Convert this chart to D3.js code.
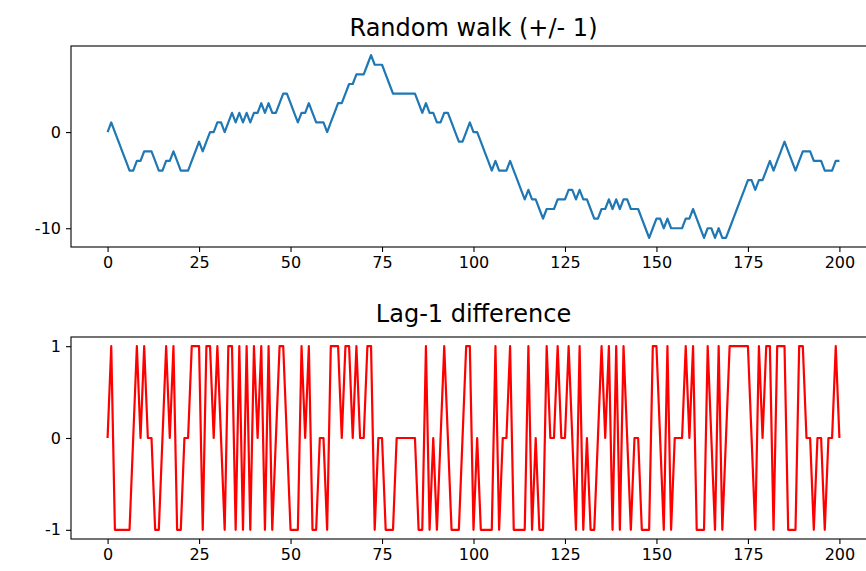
<!DOCTYPE html>
<html>
<head>
<meta charset="utf-8">
<script src="https://cdn.jsdelivr.net/npm/d3@7"></script>
<style>
  body { margin: 0; background: #fff; }
  svg { display: block; }
  text { font-family: "DejaVu Sans", sans-serif; fill: #000; }
</style>
</head>
<body>
<svg id="chart" width="866" height="571"></svg>
<script>
// Random walk level at each step 0..200
const walk = [
  0, 1, 0, -1, -2, -3, -4, -4, -3, -3,
  -2, -2, -2, -3, -4, -4, -3, -3, -2, -3,
  -4, -4, -4, -3, -2, -1, -2, -1, 0, 0,
  1, 1, 0, 1, 2, 1, 2, 1, 2, 1,
  2, 2, 3, 2, 3, 2, 2, 3, 4, 4,
  3, 2, 1, 2, 2, 3, 2, 1, 1, 1,
  0, 1, 2, 3, 3, 4, 5, 5, 6, 6,
  6, 7, 8, 7, 7, 7, 6, 5, 4, 4,
  4, 4, 4, 4, 4, 3, 2, 3, 2, 2,
  1, 1, 2, 2, 1, 0, -1, -1, 0, 1,
  0, 0, -1, -2, -3, -4, -3, -4, -4, -4,
  -3, -4, -5, -6, -7, -6, -7, -7, -8, -9,
  -8, -8, -8, -7, -7, -7, -6, -6, -7, -6,
  -7, -7, -8, -9, -9, -8, -8, -7, -8, -7,
  -8, -7, -7, -8, -8, -8, -9, -10, -11, -10,
  -9, -9, -10, -9, -10, -10, -10, -10, -9, -9,
  -8, -9, -10, -11, -10, -10, -11, -10, -11, -11,
  -10, -9, -8, -7, -6, -5, -5, -6, -5, -5,
  -4, -3, -4, -3, -2, -1, -2, -3, -4, -3,
  -2, -2, -2, -3, -3, -3, -4, -4, -4, -3,
  -3
];

// Step-to-step change of the walk (first entry has no predecessor)
const lagDiff = [
  0, 1, -1, -1, -1, -1, -1, 0, 1, 0,
  1, 0, 0, -1, -1, 0, 1, 0, 1, -1,
  -1, 0, 0, 1, 1, 1, -1, 1, 1, 0,
  1, 0, -1, 1, 1, -1, 1, -1, 1, -1,
  1, 0, 1, -1, 1, -1, 0, 1, 1, 0,
  -1, -1, -1, 1, 0, 1, -1, -1, 0, 0,
  -1, 1, 1, 1, 0, 1, 1, 0, 1, 0,
  0, 1, 1, -1, 0, 0, -1, -1, -1, 0,
  0, 0, 0, 0, 0, -1, -1, 1, -1, 0,
  -1, 0, 1, 0, -1, -1, -1, 0, 1, 1,
  -1, 0, -1, -1, -1, -1, 1, -1, 0, 0,
  1, -1, -1, -1, -1, 1, -1, 0, -1, -1,
  1, 0, 0, 1, 0, 0, 1, 0, -1, 1,
  -1, 0, -1, -1, 0, 1, 0, 1, -1, 1,
  -1, 1, 0, -1, 0, 0, -1, -1, -1, 1,
  1, 0, -1, 1, -1, 0, 0, 0, 1, 0,
  1, -1, -1, -1, 1, 0, -1, 1, -1, 0,
  1, 1, 1, 1, 1, 1, 0, -1, 1, 0,
  1, 1, -1, 1, 1, 1, -1, -1, -1, 1,
  1, 0, 0, -1, 0, 0, -1, 0, 0, 1,
  0
];

const xTicks = [0, 25, 50, 75, 100, 125, 150, 175, 200];
const walkTicks = [-10, 0];
const diffTicks = [-1, 0, 1];

const svg = d3.select("#chart");
const left = 71, right = 876;

const x = d3.scaleLinear().domain([-10, 210]).range([left, right]);

// plain integer labels with an ASCII hyphen for negatives
const intLabel = d => String(d);

const panels = [
  { title: "Random walk (+/- 1)", values: walk, ticks: walkTicks,
    top: 46, bottom: 247, titleY: 36, color: "#1f77b4" },
  { title: "Lag-1 difference", values: lagDiff, ticks: diffTicks,
    top: 337, bottom: 539, titleY: 322, color: "#ff0000" }
];

panels.forEach((p, k) => {
  const [lo, hi] = d3.extent(p.values);
  const pad = (hi - lo) * 0.05;
  const y = d3.scaleLinear().domain([lo - pad, hi + pad]).range([p.bottom, p.top]);

  const clipId = "clip" + k;
  svg.append("clipPath").attr("id", clipId)
    .append("rect")
    .attr("x", left).attr("y", p.top)
    .attr("width", right - left).attr("height", p.bottom - p.top);

  const line = d3.line()
    .x((d, i) => x(i))
    .y(d => y(d));

  svg.append("path")
    .datum(p.values)
    .attr("clip-path", `url(#${clipId})`)
    .attr("fill", "none")
    .attr("stroke", p.color)
    .attr("stroke-width", 2.2)
    .attr("stroke-linejoin", "round")
    .attr("d", line);

  const gx = svg.append("g")
    .attr("transform", `translate(0,${p.bottom})`)
    .call(d3.axisBottom(x).tickValues(xTicks).tickSize(5).tickPadding(5).tickFormat(intLabel));
  const gy = svg.append("g")
    .attr("transform", `translate(${left},0)`)
    .call(d3.axisLeft(y).tickValues(p.ticks).tickSize(5).tickPadding(5).tickFormat(intLabel));

  [gx, gy].forEach(g => {
    g.select(".domain").remove();
    g.selectAll(".tick line").attr("stroke", "#000").attr("stroke-width", 1.1);
    g.selectAll(".tick text").attr("font-size", 16).attr("fill", "#000")
      .attr("font-family", "DejaVu Sans, sans-serif");
  });

  // axes frame
  svg.append("rect")
    .attr("x", left).attr("y", p.top)
    .attr("width", right - left).attr("height", p.bottom - p.top)
    .attr("fill", "none").attr("stroke", "#000").attr("stroke-width", 1.1);

  svg.append("text")
    .attr("x", (left + right) / 2)
    .attr("y", p.titleY)
    .attr("text-anchor", "middle")
    .attr("font-size", 24)
    .text(p.title);
});
</script>
</body>
</html>
